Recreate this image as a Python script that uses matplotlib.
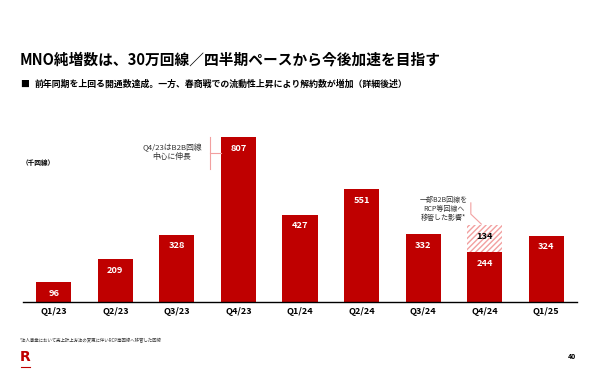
import matplotlib
matplotlib.use("Agg")
import matplotlib.pyplot as plt

plt.rcParams['font.family'] = ['Noto Sans CJK JP', 'DejaVu Sans']

# data
quarters = ['Q1/23', 'Q2/23', 'Q3/23', 'Q4/23', 'Q1/24', 'Q2/24', 'Q3/24', 'Q4/24', 'Q1/25']
net_adds = [96, 209, 328, 807, 427, 551, 332, 244, 324]
moved = [0, 0, 0, 0, 0, 0, 0, 134, 0]   # moved to RCP lines (hatched part)

title = 'MNO純増数は、30万回線／四半期ペースから今後加速を目指す'
subtitle = '前年同期を上回る開通数達成。一方、春商戦での流動性上昇により解約数が増加（詳細後述）'
footnote = '*法人事業において売上計上方法の変更に伴いRCP等回線へ移管した回線'

red = '#BF0000'
pink = '#F2A0A0'

fig = plt.figure(figsize=(5.9, 3.87), dpi=100)
ax = fig.add_axes([0.039, 0.2204, 0.939, 0.4475])

x = list(range(len(quarters)))
ax.bar(x, net_adds, width=0.57, color=red, zorder=2)
ax.bar(x, moved, width=0.57, bottom=net_adds, color='white', edgecolor=pink,
       hatch='//////', linewidth=0, zorder=2)

for i, v in enumerate(net_adds):
    ax.annotate(str(v), (i, v), xytext=(0, -8), textcoords='offset points',
                ha='center', va='center', color='white', fontsize=6.7, fontweight='bold')
for i, v in enumerate(moved):
    if v:
        ax.annotate(str(v), (i, net_adds[i] + v), xytext=(0, -8.5), textcoords='offset points',
                    ha='center', va='center', color='black', fontsize=6.7, fontweight='bold')

ax.set_xlim(-0.5, 8.5)
ax.set_ylim(0, 850)
ax.set_xticks(x)
ax.set_xticklabels(quarters, fontsize=6.5, fontweight='bold')
ax.tick_params(axis='x', length=0, pad=4)
ax.set_yticks([])
for s in ['top', 'right', 'left']:
    ax.spines[s].set_visible(False)
ax.spines['bottom'].set_linewidth(1.0)
ax.spines['bottom'].set_color('black')

# annotation Q4/23
ax.plot([2.54, 2.54], [651, 807], color=pink, lw=0.8, clip_on=False)
ax.plot([2.54, 2.72], [729, 729], color=pink, lw=0.8, clip_on=False)
ax.text(1.92, 733, 'Q4/23はB2B回線\n中心に伸長', ha='center', va='center',
        fontsize=5.6, color='#333333', linespacing=1.15)

# annotation Q4/24
ax.plot([6.775, 6.775, 6.945], [485, 430, 381], color=pink, lw=0.8, clip_on=False)
ax.text(6.33, 455, '一部B2B回線を\nRCP等回線へ\n移管した影響*', ha='center', va='center',
        fontsize=5.0, color='#333333', linespacing=1.2)

fig.text(0.034, 0.846, title, fontsize=10.6, fontweight='bold', va='center')
fig.text(0.034, 0.783, '■', fontsize=6.4, fontweight='bold', va='center')
fig.text(0.059, 0.783, subtitle, fontsize=6.4, fontweight='bold', va='center')
fig.text(0.037, 0.579, '（千回線）', fontsize=4.8, fontweight='bold', va='center')
fig.text(0.034, 0.121, footnote, fontsize=3.2, va='center', color='#333333')
fig.text(0.034, 0.078, 'R', fontsize=10, fontweight='bold', color=red, va='center',
         family='DejaVu Sans')
fig.add_artist(plt.Line2D([0.035, 0.05], [0.052, 0.052], color=red, lw=0.8))
fig.text(0.976, 0.08, '40', fontsize=5, fontweight='bold', va='center', ha='right')

fig.savefig('out.png', dpi=100)
